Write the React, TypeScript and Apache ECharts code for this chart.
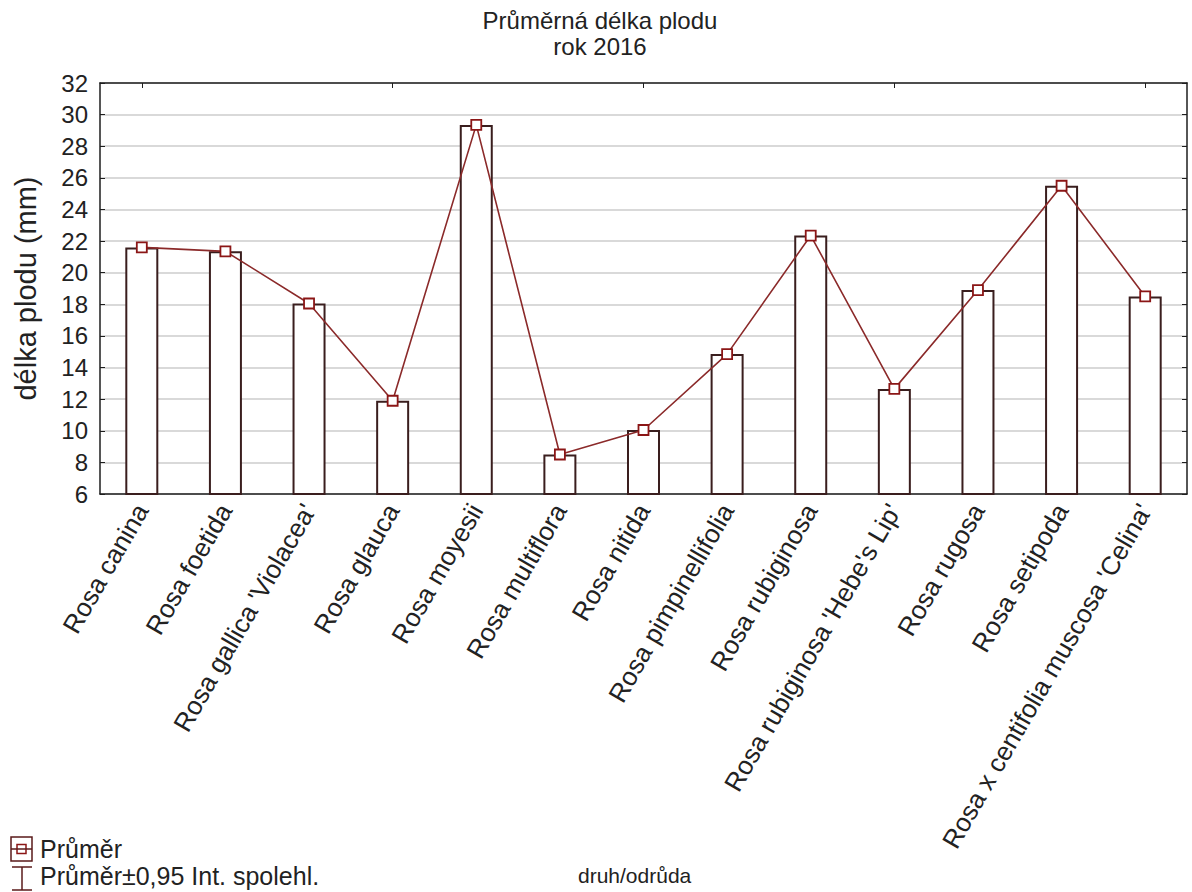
import React, { useEffect, useRef } from "react";
import * as echarts from "echarts";

const categories = [
  "Rosa canina",
  "Rosa foetida",
  "Rosa gallica 'Violacea'",
  "Rosa glauca",
  "Rosa moyesii",
  "Rosa multiflora",
  "Rosa nitida",
  "Rosa pimpinellifolia",
  "Rosa rubiginosa",
  "Rosa rubiginosa 'Hebe's Lip'",
  "Rosa rugosa",
  "Rosa setipoda",
  "Rosa x centifolia muscosa 'Celina'",
];

const meanValues = [21.6, 21.35, 18.05, 11.9, 29.35, 8.5, 10.05, 14.85, 22.35, 12.65, 18.9, 25.5, 18.5];

const titleText = "Průměrná délka plodu";
const subtitleText = "rok 2016";
const yAxisName = "délka plodu (mm)";
const xAxisName = "druh/odrůda";
const legendLabels = ["Průměr", "Průměr±0,95 Int. spolehl."];
const yMin = 6;
const yMax = 32;
const yInterval = 2;

const FONT = "'Liberation Sans', Arial, sans-serif";
const AXIS = "#1e1e1e";
const BAR_BORDER = "#3a1e1e";
const LINE = "#8b2a2a";
const MARK = "#8b1616";

export default function App() {
  const ref = useRef<HTMLDivElement>(null);
  useEffect(() => {
    if (!ref.current) return;
    const chart = echarts.init(ref.current, null, { renderer: "svg" });
    const option: any = {
      animation: false,
      backgroundColor: "#ffffff",
      textStyle: { fontFamily: FONT },
      title: {
        text: titleText,
        subtext: subtitleText,
        left: 600,
        top: 9,
        textAlign: "center",
        itemGap: 2,
        padding: 0,
        textStyle: { fontFamily: FONT, fontSize: 24, fontWeight: "normal", color: "#222", lineHeight: 22 },
        subtextStyle: { fontFamily: FONT, fontSize: 24, color: "#222", lineHeight: 22 },
      },
      grid: { left: 100, right: 5, top: 83, bottom: 398, containLabel: false },
      xAxis: [
        {
          type: "category",
          data: categories,
          boundaryGap: true,
          position: "bottom",
          axisLine: { lineStyle: { color: AXIS, width: 1.5 } },
          axisTick: { show: true, inside: true, alignWithLabel: true, length: 5, lineStyle: { color: AXIS } },
          axisLabel: { rotate: 60, fontSize: 26, color: "#222", fontFamily: FONT, margin: 12, interval: 0 },
          splitLine: { show: false },
        },
        {
          type: "category",
          data: categories,
          boundaryGap: true,
          position: "top",
          axisLine: { lineStyle: { color: AXIS, width: 1.5 } },
          axisTick: { show: true, inside: true, alignWithLabel: true, length: 5, lineStyle: { color: AXIS } },
          axisLabel: { show: false },
          splitLine: { show: false },
        },
      ],
      yAxis: [
        {
          type: "value",
          min: yMin,
          max: yMax,
          interval: yInterval,
          position: "left",
          name: yAxisName,
          nameLocation: "middle",
          nameRotate: 90,
          nameGap: 60,
          nameTextStyle: { fontSize: 29, color: "#222", fontFamily: FONT },
          axisLine: { show: true, lineStyle: { color: AXIS, width: 1.5 } },
          axisTick: { show: true, inside: true, length: 5, lineStyle: { color: AXIS } },
          axisLabel: { fontSize: 24, color: "#222", fontFamily: FONT, margin: 12 },
          splitLine: { show: true, lineStyle: { color: "#cdcdcd", width: 1.5 } },
        },
        {
          type: "value",
          min: yMin,
          max: yMax,
          interval: yInterval,
          position: "right",
          axisLine: { show: true, lineStyle: { color: AXIS, width: 1.5 } },
          axisTick: { show: true, inside: true, length: 5, lineStyle: { color: AXIS } },
          axisLabel: { show: false },
          splitLine: { show: false },
        },
      ],
      series: [
        {
          type: "bar",
          data: meanValues,
          xAxisIndex: 0,
          yAxisIndex: 0,
          barWidth: 33,
          itemStyle: { color: "#ffffff", borderColor: BAR_BORDER, borderWidth: 2 },
          z: 2,
        },
        {
          type: "line",
          data: meanValues,
          xAxisIndex: 0,
          yAxisIndex: 0,
          symbol: "rect",
          symbolSize: 10,
          lineStyle: { color: LINE, width: 1.6 },
          itemStyle: { color: "#ffffff", borderColor: MARK, borderWidth: 1.8 },
          z: 3,
        },
      ],
      graphic: [
        {
          type: "text",
          left: 578,
          top: 865,
          style: { text: xAxisName, fontSize: 21, fill: "#222", fontFamily: FONT },
        },
        {
          type: "rect",
          shape: { x: 11, y: 837, width: 21, height: 24 },
          style: { fill: "none", stroke: "#5a1a1a", lineWidth: 1.5 },
        },
        {
          type: "rect",
          shape: { x: 17, y: 844.5, width: 9, height: 9 },
          style: { fill: "none", stroke: MARK, lineWidth: 1.5 },
        },
        {
          type: "line",
          shape: { x1: 11, y1: 849, x2: 32, y2: 849 },
          style: { stroke: "#5a1a1a", lineWidth: 1.5 },
        },
        {
          type: "line",
          shape: { x1: 12, y1: 867, x2: 32, y2: 867 },
          style: { stroke: "#5a1a1a", lineWidth: 1.5 },
        },
        {
          type: "line",
          shape: { x1: 22, y1: 867, x2: 22, y2: 890 },
          style: { stroke: "#5a1a1a", lineWidth: 1.5 },
        },
        {
          type: "line",
          shape: { x1: 12, y1: 890, x2: 32, y2: 890 },
          style: { stroke: "#5a1a1a", lineWidth: 1.5 },
        },
        {
          type: "text",
          left: 40,
          top: 836,
          style: { text: legendLabels[0], fontSize: 25, fill: "#222", fontFamily: FONT },
        },
        {
          type: "text",
          left: 40,
          top: 863,
          style: { text: legendLabels[1], fontSize: 25, fill: "#222", fontFamily: FONT },
        },
      ],
    };
    chart.setOption(option);
    return () => chart.dispose();
  }, []);
  return (
    <div
      ref={ref}
      style={{ position: "fixed", left: 0, top: 0, width: 1192, height: 892, background: "#fff" }}
    />
  );
}
